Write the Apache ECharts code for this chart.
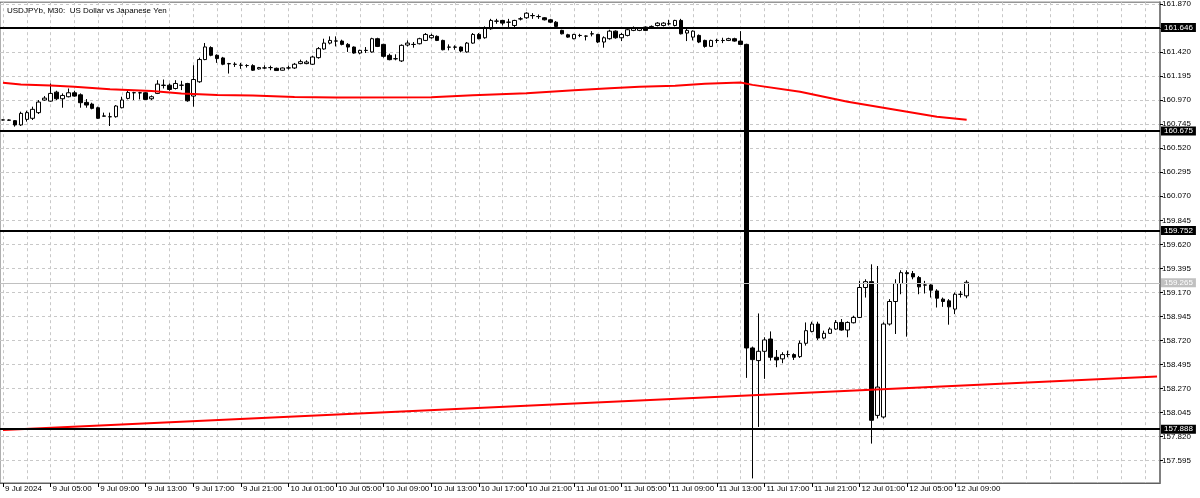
<!DOCTYPE html>
<html>
<head>
<meta charset="utf-8">
<script src="https://cdn.jsdelivr.net/npm/echarts@6/dist/echarts.min.js"></script>
<style>
  html, body { margin: 0; padding: 0; background: #fff; }
  #chart { width: 1200px; height: 498px; }
</style>
</head>
<body>
<div id="chart"></div>
<script>
// USDJPYb M30, first bar 9 Jul 2024 01:00, one row per bar: [open, high, low, close]
const candles = [
  [160.785,160.790,160.780,160.784],[160.784,160.790,160.778,160.782],[160.778,160.784,160.722,160.738],[160.738,160.862,160.728,160.846],
  [160.790,160.871,160.769,160.853],[160.800,160.909,160.784,160.884],[160.853,160.971,160.840,160.952],[160.971,161.008,160.964,160.989],
  [160.961,161.126,160.955,161.033],[161.045,161.058,160.971,160.983],[160.983,161.033,160.899,161.014],[161.002,161.079,160.996,161.039],
  [161.039,161.058,161.002,161.008],[161.020,161.033,160.899,160.946],[160.949,160.980,160.899,160.924],[160.933,160.946,160.884,160.893],
  [160.899,160.909,160.794,160.800],[160.822,160.853,160.815,160.820],[160.815,160.853,160.728,160.814],[160.815,160.924,160.806,160.915],
  [160.899,161.002,160.893,160.971],[160.986,161.070,160.977,161.042],[161.040,161.048,160.971,161.039],[161.039,161.048,160.977,161.038],
  [161.039,161.045,160.971,160.977],[160.983,161.014,160.971,161.002],[161.033,161.157,161.027,161.120],[161.110,161.163,161.079,161.108],
  [161.110,161.126,161.058,161.070],[161.079,161.157,161.070,161.126],[161.110,161.151,161.064,161.109],[161.126,161.132,160.955,160.964],
  [161.008,161.297,160.909,161.163],[161.142,161.368,161.132,161.350],[161.350,161.505,161.344,161.468],[161.462,161.474,161.381,161.390],
  [161.390,161.399,161.319,161.359],[161.365,161.375,161.297,161.306],[161.312,161.319,161.219,161.310],[161.306,161.325,161.281,161.305],
  [161.297,161.319,161.263,161.296],[161.294,161.306,161.275,161.294],[161.293,161.306,161.243,161.250],[161.262,161.281,161.256,161.275],
  [161.272,161.296,161.262,161.271],[161.274,161.293,161.250,161.275],[161.268,161.275,161.243,161.247],[161.250,161.275,161.247,161.271],
  [161.271,161.293,161.256,161.272],[161.271,161.318,161.262,161.306],[161.312,161.349,161.306,161.330],[161.312,161.343,161.306,161.327],
  [161.306,161.386,161.299,161.374],[161.368,161.467,161.358,161.452],[161.449,161.545,161.442,161.504],[161.504,161.567,161.492,161.529],
  [161.524,161.567,161.473,161.523],[161.523,161.536,161.483,161.492],[161.492,161.504,161.421,161.467],[161.467,161.473,161.405,161.411],
  [161.411,161.442,161.399,161.436],[161.436,161.467,161.411,161.435],[161.421,161.554,161.414,161.545],[161.545,161.554,161.467,161.473],
  [161.492,161.498,161.368,161.380],[161.389,161.405,161.343,161.349],[161.358,161.399,161.343,161.357],[161.337,161.492,161.327,161.483],
  [161.486,161.529,161.473,161.504],[161.492,161.514,161.461,161.491],[161.498,161.554,161.492,161.545],[161.529,161.598,161.523,161.585],
  [161.554,161.591,161.545,161.576],[161.567,161.576,161.523,161.529],[161.529,161.536,161.436,161.442],[161.467,161.492,161.436,161.466],
  [161.467,161.483,161.442,161.466],[161.467,161.473,161.417,161.430],[161.421,161.514,161.414,161.504],[161.504,161.598,161.498,161.585],
  [161.585,161.598,161.539,161.545],[161.554,161.660,161.545,161.647],[161.638,161.731,161.629,161.716],[161.710,161.731,161.685,161.709],
  [161.716,161.722,161.669,161.691],[161.700,161.731,161.654,161.699],[161.669,161.722,161.647,161.716],[161.731,161.747,161.716,161.730],
  [161.741,161.793,161.731,161.784],[161.762,161.784,161.731,161.761],[161.753,161.772,161.731,161.752],[161.741,161.747,161.716,161.722],
  [161.722,161.731,161.691,161.700],[161.700,161.710,161.654,161.660],[161.623,161.629,161.585,161.591],[161.582,161.591,161.554,161.560],
  [161.545,161.591,161.539,161.585],[161.576,161.591,161.560,161.575],[161.570,161.576,161.529,161.569],[161.591,161.616,161.567,161.590],
  [161.585,161.591,161.504,161.514],[161.514,161.567,161.461,161.554],[161.545,161.629,161.536,161.616],[161.616,161.623,161.545,161.554],
  [161.554,161.598,161.523,161.585],[161.576,161.638,161.567,161.629],[161.623,161.660,161.616,161.647],[161.623,161.654,161.616,161.647],
  [161.654,161.660,161.616,161.623],[161.647,161.669,161.638,161.660],[161.669,161.700,161.660,161.691],[161.669,161.700,161.660,161.691],
  [161.685,161.722,161.669,161.684],[161.669,161.722,161.660,161.716],[161.716,161.731,161.585,161.591],[161.598,161.647,161.523,161.623],
  [161.560,161.623,161.529,161.616],[161.576,161.585,161.504,161.514],[161.529,161.536,161.461,161.473],[161.473,161.536,161.467,161.529],
  [161.529,161.545,161.504,161.528],[161.529,161.554,161.504,161.528],[161.529,161.554,161.523,161.545],[161.545,161.554,161.517,161.523],
  [161.523,161.616,161.492,161.492],[161.492,161.498,158.370,158.650],[158.650,158.663,157.429,158.541],[158.532,158.973,157.911,158.619],
  [158.619,158.750,158.361,158.725],[158.734,158.805,158.532,158.563],[158.563,158.631,158.470,158.538],[158.548,158.610,158.507,158.588],
  [158.588,158.625,158.563,158.589],[158.588,158.600,158.538,158.563],[158.569,158.719,158.557,158.694],[158.694,158.889,158.672,158.812],
  [158.805,158.896,158.796,158.874],[158.874,158.896,158.725,158.743],[158.743,158.812,158.731,158.787],[158.787,158.843,158.781,158.827],
  [158.827,158.911,158.818,158.889],[158.889,158.921,158.812,158.818],[158.818,158.899,158.750,158.889],[158.886,158.952,158.880,158.936],
  [158.936,159.278,158.930,159.216],[159.216,159.293,159.122,159.271],[159.271,159.433,157.755,157.973],[158.019,159.417,157.990,158.284],
  [158.004,158.890,157.990,158.874],[158.874,159.107,158.860,159.085],[159.085,159.293,158.781,159.253],[159.253,159.377,159.153,159.355],
  [159.355,159.377,158.756,159.346],[159.346,159.371,159.293,159.315],[159.309,159.324,159.153,159.222],[159.240,159.278,159.160,159.239],
  [159.240,159.247,159.122,159.191],[159.184,159.200,159.029,159.116],[159.107,159.122,159.035,159.085],[159.091,159.107,158.868,159.035],
  [159.014,159.169,158.967,159.153],[159.153,159.184,159.122,159.152],[159.138,159.284,159.116,159.265]
];

// red moving average, read at [bar index, price]
const maPoints = [
  [0,161.132],[3,161.116],[8,161.107],[12,161.095],[18,161.073],[25,161.055],[30,161.032],[36,161.017],
  [42,161.014],[49,160.999],[56,160.995],[72,160.997],[79,161.016],[88,161.034],[96,161.062],[102,161.081],
  [107,161.095],[113,161.104],[118,161.123],[124,161.135],[126,161.113],[134,161.048],[142,160.955],
  [150,160.880],[157,160.815],[162,160.787]
];

// red trend line ends [bar index, price]
const trendStart = [0, 157.881];
const trendEnd = [194, 158.383];

// horizontal black levels and the bid line
const levels = [161.646, 160.675, 159.752, 157.888];
const bidPrice = 159.265;

const priceTicks = [157.595,157.820,158.045,158.270,158.495,158.720,158.945,159.170,159.395,159.620,
  159.845,160.070,160.295,160.520,160.745,160.970,161.195,161.420,161.646,161.870];
const priceMin = 157.386, priceMax = 161.887;

const barCount = 195;
const lastBar = candles.length - 1;
const firstBar = Date.UTC(2024, 6, 9, 1, 0);
const months = ['Jan','Feb','Mar','Apr','May','Jun','Jul','Aug','Sep','Oct','Nov','Dec'];
const pad = n => (n < 10 ? '0' : '') + n;
const cats = [];
for (let i = 0; i < barCount; i++) {
  const d = new Date(firstBar + i * 1800000);
  cats.push(i === 0 ? d.getUTCDate() + ' ' + months[d.getUTCMonth()] + ' ' + d.getUTCFullYear()
    : d.getUTCDate() + ' ' + months[d.getUTCMonth()] + ' ' + pad(d.getUTCHours()) + ':' + pad(d.getUTCMinutes()));
}
// a time label every 8 bars, only under bars that exist
const showTime = i => i % 8 === 0 && i <= lastBar;

const font = "'Liberation Sans Narrow', 'Liberation Sans', sans-serif";
const gridColor = '#c8c8c8';

let chart = echarts.init(document.getElementById('chart'), null, { renderer: 'canvas' });

let levelLines = levels.map(v => ({
  yAxis: v,
  lineStyle: { color: '#000', width: 2, type: 'solid' },
  label: { show: true, position: 'end', distance: 1, formatter: v.toFixed(3), color: '#fff',
    backgroundColor: '#000', padding: [1, 3, 0, 3], fontSize: 8, fontFamily: font }
}));
levelLines.push({
  yAxis: bidPrice,
  lineStyle: { color: '#c0c0c0', width: 1, type: 'solid' },
  label: { show: true, position: 'end', distance: 1, formatter: bidPrice.toFixed(3), color: '#fff',
    backgroundColor: '#c0c0c0', padding: [1, 3, 0, 3], fontSize: 8, fontFamily: font }
});

let option = {
  animation: false,
  backgroundColor: '#fff',
  title: {
    text: 'USDJPYb, M30:  US Dollar vs Japanese Yen',
    left: 2, top: 2,
    textStyle: { fontSize: 8, fontWeight: 'normal', color: '#000', fontFamily: font }
  },
  grid: {
    left: 0, top: 0, right: 40, bottom: 15,
    show: true, borderColor: '#606060', borderWidth: 1, backgroundColor: '#fff'
  },
  xAxis: {
    type: 'category',
    data: cats,
    boundaryGap: true,
    axisLine: { show: true, lineStyle: { color: '#606060' } },
    axisTick: { show: true, interval: showTime, alignWithLabel: true, length: 4, lineStyle: { color: '#000' } },
    axisLabel: {
      interval: showTime, align: 'left', margin: 2, padding: [0, 0, 0, 2],
      fontSize: 8, color: '#000', fontFamily: font
    },
    splitLine: { show: true, interval: 3, alignWithLabel: true, lineStyle: { color: gridColor, type: [3, 3], width: 1 } }
  },
  yAxis: {
    type: 'value',
    position: 'right',
    min: priceMin,
    max: priceMax,
    scale: true,
    axisLine: { show: true, onZero: false, lineStyle: { color: '#808080', width: 2 } },
    axisTick: { show: true, length: 3, customValues: priceTicks, lineStyle: { color: '#000' } },
    axisLabel: {
      customValues: priceTicks, margin: 2, fontSize: 8, color: '#000', fontFamily: font,
      formatter: v => v.toFixed(3)
    },
    splitLine: { show: true, lineStyle: { color: gridColor, type: [3, 3], width: 1 } }
  },
  series: [
    {
      name: 'trend',
      type: 'line',
      data: [],
      silent: true,
      markLine: {
        silent: true,
        symbol: 'none',
        animation: false,
        lineStyle: { color: '#ff0000', width: 2, type: 'solid' },
        label: { show: false },
        data: [[{ coord: trendStart }, { coord: trendEnd }]]
      }
    },
    {
      name: 'USDJPYb',
      type: 'candlestick',
      data: candles.map(r => [r[0], r[3], r[2], r[1]]),
      barWidth: 4,
      itemStyle: {
        color: '#ffffff', color0: '#000000',
        borderColor: '#000000', borderColor0: '#000000', borderWidth: 1
      },
      markLine: {
        silent: true,
        symbol: 'none',
        animation: false,
        data: levelLines
      }
    },
    {
      name: 'MA',
      type: 'line',
      data: maPoints,
      showSymbol: false,
      smooth: false,
      lineStyle: { color: '#ff0000', width: 2 },
      z: 3
    }
  ]
};
chart.setOption(option);
</script>
</body>
</html>
